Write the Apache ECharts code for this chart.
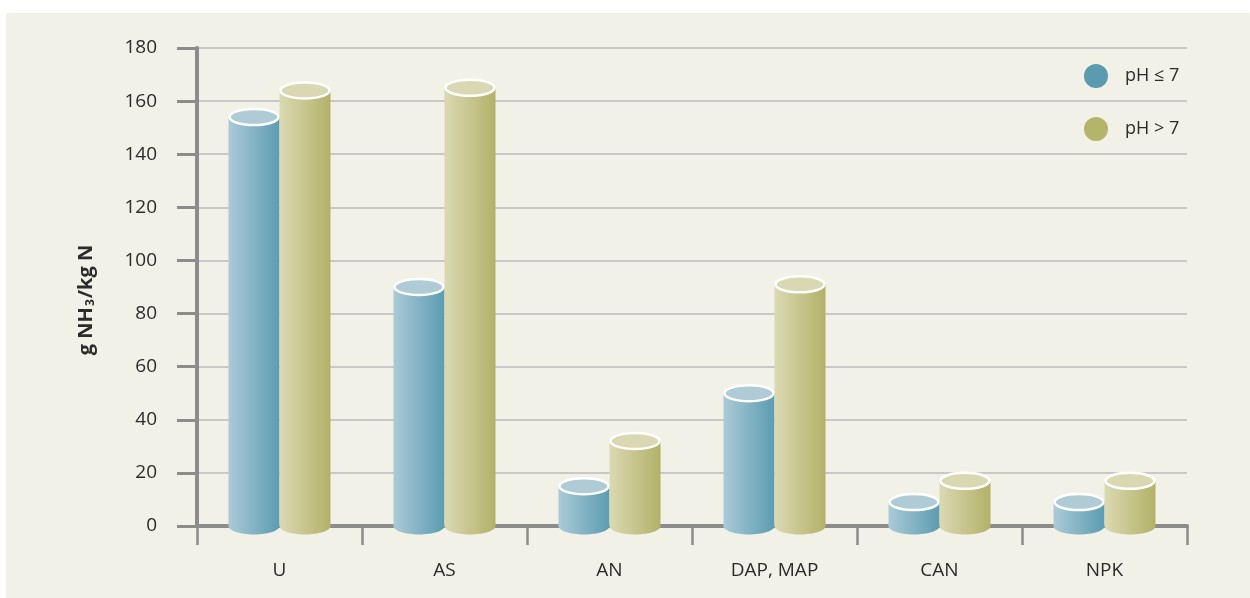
<!DOCTYPE html>
<html>
<head>
<meta charset="utf-8">
<script src="https://cdn.jsdelivr.net/npm/echarts@6/dist/echarts.min.js"></script>
<style>
html,body{margin:0;padding:0;background:#fff;width:1250px;height:598px;overflow:hidden;}
#bg{position:absolute;left:6px;top:13px;right:0;bottom:0;background:#f2f1e7;}
#chart{position:absolute;left:0;top:0;width:1250px;height:598px;}
</style>
</head>
<body>
<div id="bg"></div>
<div id="chart"></div>
<script>
const categories = ['U', 'AS', 'AN', 'DAP, MAP', 'CAN', 'NPK'];
const seriesNames = ['pH ≤ 7', 'pH > 7'];
const phLow = [154, 90, 15, 50, 9, 9];
const phHigh = [164, 165, 32, 91, 17, 17];
const yTicks = { min: 0, max: 180, interval: 20 };

const FONT = '"Open Sans", "Noto Sans", sans-serif';
const styles = [
  { legend: '#5b9bb0', left: '#abcad7', right: '#5c9cb1', top: '#afcbd6' },
  { legend: '#b5b46b', left: '#dbd9b2', right: '#b3b168', top: '#dad8b2' }
];

function makeRender(idx) {
  const st = styles[idx];
  return function (params, api) {
    const cat = api.value(0);
    const val = api.value(1);
    const top = api.coord([cat, val]);
    const base = api.coord([cat, 0]);
    const bw = 51;
    const off = idx === 0 ? -25.5 : 25.5;
    const cx = top[0] + off;
    const ry = 8.5;
    const grad = new echarts.graphic.LinearGradient(0, 0, 1, 0, [
      { offset: 0, color: st.left },
      { offset: 1, color: st.right }
    ]);
    return {
      type: 'group',
      children: [
        { type: 'ellipse', shape: { cx: cx, cy: base[1], rx: bw / 2, ry: ry }, style: { fill: grad } },
        { type: 'rect', shape: { x: cx - bw / 2, y: top[1], width: bw, height: base[1] - top[1] }, style: { fill: grad } },
        { type: 'ellipse', shape: { cx: cx, cy: top[1], rx: bw / 2 - 1, ry: ry - 0.5 }, style: { fill: st.top, stroke: '#ffffff', lineWidth: 2.5 } }
      ]
    };
  };
}

const chart = echarts.init(document.getElementById('chart'), null, { renderer: 'canvas' });
chart.setOption({
  backgroundColor: 'transparent',
  animation: false,
  textStyle: { fontFamily: FONT },
  grid: { left: 197, right: 63, top: 48, bottom: 72, containLabel: false },
  legend: {
    orient: 'vertical',
    left: 1079,
    top: 59,
    itemWidth: 24,
    itemHeight: 24,
    itemGap: 29,
    icon: 'circle',
    textStyle: { fontSize: 18, color: '#2b2b2b', fontFamily: FONT, padding: [0, 0, 0, 12] },
    data: seriesNames
  },
  xAxis: {
    type: 'category',
    data: categories,
    axisLine: { show: true, lineStyle: { color: '#8c8c8c', width: 4 } },
    axisTick: { show: true, length: 19, lineStyle: { color: '#8c8c8c', width: 2.5 } },
    axisLabel: { fontSize: 19, color: '#2b2b2b', margin: 35, fontFamily: FONT },
    splitLine: { show: false }
  },
  yAxis: {
    type: 'value',
    min: yTicks.min,
    max: yTicks.max,
    interval: yTicks.interval,
    name: '{a|g NH}{s|3}{a|/kg N}',
    nameLocation: 'middle',
    nameGap: 100,
    nameRotate: 90,
    nameTextStyle: {
      padding: [0, 26, 0, 0],
      rich: {
        a: { fontSize: 20, fontWeight: 'bold', color: '#2b2b2b', fontFamily: FONT },
        s: { fontSize: 12, fontWeight: 'bold', color: '#2b2b2b', fontFamily: FONT, padding: [9, 1, 0, 1] }
      }
    },
    axisLine: { show: true, lineStyle: { color: '#8c8c8c', width: 4 } },
    axisTick: { show: true, length: 20, lineStyle: { color: '#8c8c8c', width: 3 } },
    axisLabel: { fontSize: 19, color: '#2b2b2b', margin: 40, fontFamily: FONT },
    splitLine: { show: true, lineStyle: { color: '#c9c7c7', width: 2 } }
  },
  series: [
    {
      name: seriesNames[0],
      type: 'custom',
      itemStyle: { color: styles[0].legend },
      renderItem: makeRender(0),
      encode: { x: 0, y: 1 },
      data: phLow.map((v, i) => [i, v])
    },
    {
      name: seriesNames[1],
      type: 'custom',
      itemStyle: { color: styles[1].legend },
      renderItem: makeRender(1),
      encode: { x: 0, y: 1 },
      data: phHigh.map((v, i) => [i, v])
    }
  ]
});
</script>
</body>
</html>
